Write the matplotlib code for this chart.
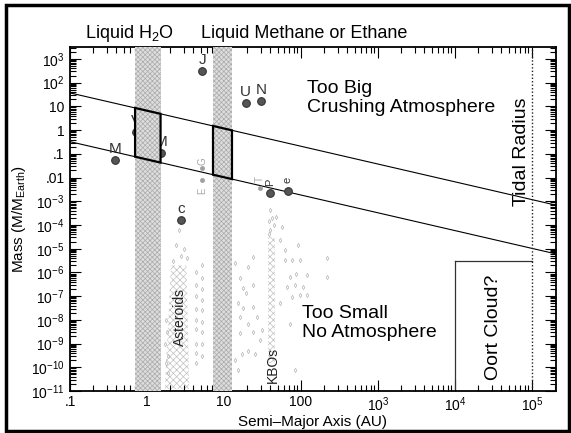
import matplotlib
matplotlib.use("Agg")
import matplotlib.pyplot as plt
from matplotlib.patches import Polygon, Rectangle
from matplotlib.ticker import LogLocator, FixedLocator, FixedFormatter, NullFormatter
import numpy as np

plt.rcParams['font.family'] = ['Liberation Sans', 'DejaVu Sans']
plt.rcParams['mathtext.fontset'] = 'custom'
plt.rcParams['mathtext.rm'] = 'Liberation Sans'
plt.rcParams['mathtext.it'] = 'Liberation Sans:italic'
plt.rcParams['hatch.linewidth'] = 0.5

# ---------------- data ----------------
x_limits = [0.1, 2.05e5]
y_limits = [1e-11, 3.2e3]

x_tick_values = [0.1, 1, 10, 100, 1e3, 1e4, 1e5]
x_tick_labels = ['.1', '1', '10', '100', '10$^3$', '10$^4$', '10$^5$']
y_tick_values = [1e-11, 1e-10, 1e-9, 1e-8, 1e-7, 1e-6, 1e-5, 1e-4, 1e-3, 1e-2, 1e-1, 1, 10, 100, 1e3]
y_tick_labels = ['10$^{-11}$', '10$^{-10}$', '10$^{-9}$', '10$^{-8}$', '10$^{-7}$', '10$^{-6}$',
                 '10$^{-5}$', '10$^{-4}$', '10$^{-3}$', '.01', '.1', '1', '10', '10$^2$', '10$^3$']

# power-law boundaries  M = coeff * a^slope
boundary_coeffs = [6.6, 0.058]
boundary_slope = -0.75

# liquid zones (AU)
water_zone = [0.70, 1.50]
methane_zone = [7.2, 12.7]

# planets / dwarf planets
planet_names = ['M', 'V', 'E', 'M', 'J', 'S', 'U', 'N', 'c', 'P', 'e']
planet_a = [0.387, 0.723, 1.0, 1.524, 5.2, 9.54, 19.2, 30.1, 2.77, 39.5, 67.7]
planet_m = [0.055, 0.815, 1.0, 0.107, 318, 95, 14.5, 17.1, 1.6e-4, 0.0022, 0.0028]
planet_label_show = [True, True, False, True, True, False, True, True, True, True, True]

# moons (light gray)
moon_names = ['G', 'E', 'T']
moon_a = [5.2, 5.2, 29.5]
moon_m = [0.025, 0.008, 0.0036]

# asteroids: dense core outline (AU, mass) and scattered points
asteroid_core_a = [2.05, 3.25, 3.55, 1.7]
asteroid_core_m = [2e-6, 2e-6, 1.2e-11, 1.2e-11]
asteroid_a = [2.6, 2.4, 3.0, 2.8, 3.3, 2.2,
              4.3, 4.3, 4.3, 4.3, 4.3, 4.3, 4.3, 4.3, 4.3,
              5.2, 5.2, 5.2, 5.2, 5.2, 5.2, 5.2, 5.2, 5.2,
              1.75, 1.8, 1.7, 1.85, 1.9, 1.75]
asteroid_m = [6e-5, 1.5e-5, 1e-5, 5e-6, 4e-6, 3e-6,
              1e-6, 3e-7, 1e-7, 3e-8, 1e-8, 4e-9, 1e-9, 4e-10, 1.5e-10,
              2e-6, 6e-7, 2e-7, 7e-8, 2.5e-8, 8e-9, 3e-9, 1e-9, 3e-10,
              1e-8, 3e-9, 1e-9, 3e-10, 6e-11, 1.5e-10]

# KBOs: dense column outline and scattered points
kbo_core_a = [37, 46, 46, 37]
kbo_core_m = [3e-5, 3e-5, 1.5e-10, 1.5e-10]
kbo_a = [48, 56, 54, 62, 91, 97, 62, 76, 24, 20.5, 14, 16, 17.7, 24, 19.5, 15.3, 17.7, 24,
         27, 20.5, 16, 31, 24, 16, 29.5, 20.5, 17, 25.5, 87, 120, 72, 83, 107, 65, 76, 97,
         120, 72, 54, 220, 220, 83, 15.3, 14, 40, 42, 38, 40, 44, 38]
kbo_m = [2.2e-4, 8e-5, 2.3e-5, 9e-6, 1.4e-5, 3.4e-6, 3.4e-6, 3.4e-6, 4.6e-6, 1.7e-6, 2.5e-6,
         5.8e-7, 2.2e-7, 3e-7, 1.35e-7, 5e-8, 3.2e-8, 3.4e-8, 1.3e-8, 7e-9, 1.3e-8, 3.6e-9,
         3e-9, 2.7e-9, 1.4e-9, 5e-10, 3.8e-10, 3.8e-10, 9e-7, 8e-7, 6.5e-7, 3e-7, 2.4e-7,
         2.4e-7, 9e-8, 1.1e-7, 1.1e-7, 7e-9, 5e-8, 4e-6, 6.5e-7, 8e-11, 8e-11, 2e-10,
         4.4e-4, 2e-4, 1.5e-4, 6e-5, 1e-4, 4e-5]

# Oort cloud box and tidal radius
oort_a = [1e4, 1e5]
oort_m_top = 3e-6
tidal_radius = 1e5

# ---------------- figure ----------------
fig = plt.figure(figsize=(5.71, 4.33), dpi=100)
ax = fig.add_axes([70/571, 1-391/433, (556-70)/571, (391-47)/433])
ax.set_xscale('log')
ax.set_yscale('log')
ax.set_xlim(*x_limits)
ax.set_ylim(*y_limits)

# boundary lines
xl = np.array(x_limits)
for c in boundary_coeffs:
    ax.plot(xl, c * xl**boundary_slope, color='black', lw=0.8, zorder=2)

# liquid zones
for zone in (water_zone, methane_zone):
    ax.add_patch(Rectangle((zone[0], y_limits[0]), zone[1]-zone[0], y_limits[1]-y_limits[0],
                           facecolor='#dedede', edgecolor='#aaaaaa', hatch='xxxxxxx', lw=0,
                           zorder=3))
    za = np.array(zone)
    up = boundary_coeffs[0] * za**boundary_slope
    lo = boundary_coeffs[1] * za**boundary_slope
    verts = [(za[0], up[0]), (za[1], up[1]), (za[1], lo[1]), (za[0], lo[0])]
    ax.add_patch(Polygon(verts, closed=True, facecolor='none', edgecolor='black', lw=1.6, zorder=4))

# asteroids & KBOs dense regions
for ca, cm in ((asteroid_core_a, asteroid_core_m), (kbo_core_a, kbo_core_m)):
    ax.add_patch(Polygon(list(zip(ca, cm)), closed=True, facecolor='white',
                         edgecolor='#c2c2c2', hatch='xxxxx', lw=0, zorder=1.5))
ax.plot(asteroid_a, asteroid_m, ls='none', marker='d', ms=2.2, mfc='none', mec='#b4b4b4',
        mew=0.5, zorder=1.6)
ax.plot(kbo_a, kbo_m, ls='none', marker='d', ms=2.2, mfc='none', mec='#b4b4b4',
        mew=0.5, zorder=1.6)

# moons
ax.plot(moon_a, moon_m, ls='none', marker='o', ms=2.5, color='#a0a0a0', zorder=2.5)
for n, a, m, dy in zip(moon_names, moon_a, moon_m, [2.0, 0.35, 2.4]):
    ax.text(a, m*dy, n, fontsize=7, color='#a8a8a8', rotation=90, ha='center', va='center',
            zorder=2.5)

# planets
ax.plot(planet_a, planet_m, ls='none', marker='o', ms=5.5, mfc='#555555', mec='#333333',
        mew=0.8, zorder=2.6)
for n, a, m, s in zip(planet_names, planet_a, planet_m, planet_label_show):
    if not s:
        continue
    rot = 90 if n in ('P', 'e') else 0
    ax.text(a, m*2.9, n, fontsize=11 if rot == 0 else 8, color='#333333', ha='center',
            va='center', rotation=rot, zorder=2.6)

# Oort cloud and tidal radius
ax.plot([oort_a[0], oort_a[0]], [y_limits[0], oort_m_top], color='#333333', lw=0.9, zorder=2)
ax.plot(oort_a, [oort_m_top, oort_m_top], color='#333333', lw=0.9, zorder=2)
ax.plot([tidal_radius, tidal_radius], y_limits, color='#222222', lw=1.0, ls=(0, (1, 1.5)),
        zorder=2)

# annotations
fig.text(129/571, 1-33/433, 'Liquid H$_2$O', fontsize=13, ha='center', va='center')
fig.text(304/571, 1-33/433, 'Liquid Methane or Ethane', fontsize=13, ha='center', va='center')
fig.text(307/571, 1-98/433, 'Too Big\nCrushing Atmosphere', fontsize=14, ha='left',
         va='center', linespacing=1.1)
fig.text(302/571, 1-323/433, 'Too Small\nNo Atmosphere', fontsize=14, ha='left',
         va='center', linespacing=1.1)
fig.text(521/571, 1-152/433, 'Tidal Radius', fontsize=14, rotation=90, ha='center', va='center')
fig.text(493/571, 1-327/433, 'Oort Cloud?', fontsize=14, rotation=90, ha='center', va='center')
fig.text(180/571, 1-317/433, 'Asteroids', fontsize=10, rotation=90, ha='center', va='center',
         color='#222222', zorder=5)
fig.text(273/571, 1-365/433, 'KBOs', fontsize=10, rotation=90, ha='center', va='center',
         color='#222222')

# ticks
ax.xaxis.set_major_locator(FixedLocator(x_tick_values))
ax.xaxis.set_major_formatter(FixedFormatter(x_tick_labels))
ax.yaxis.set_major_locator(FixedLocator(y_tick_values))
ax.yaxis.set_major_formatter(FixedFormatter(y_tick_labels))
ax.xaxis.set_minor_locator(LogLocator(base=10, subs=np.arange(2, 10), numticks=40))
ax.yaxis.set_minor_locator(LogLocator(base=10, subs=np.arange(2, 10), numticks=40))
ax.xaxis.set_minor_formatter(NullFormatter())
ax.yaxis.set_minor_formatter(NullFormatter())
ax.tick_params(which='both', direction='in', top=True, right=True, width=0.8, labelsize=10)
ax.tick_params(which='major', length=8)
ax.tick_params(which='minor', length=4)
ax.tick_params(axis='x', pad=3)
ax.tick_params(axis='y', pad=4)
for sp in ax.spines.values():
    sp.set_linewidth(1.3)

ax.set_xlabel('Semi\u2013Major Axis (AU)', fontsize=11, labelpad=1)
ax.set_ylabel('Mass (M/M$_{\\rm Earth}$)', fontsize=11)
ax.yaxis.set_label_coords(-0.086, 0.5)

# outer frame
fig.patches.append(Rectangle((6/571, 2/433), 563/571, 426/433, transform=fig.transFigure,
                             fill=False, edgecolor='black', lw=2.5))

fig.savefig('out.png', dpi=100)
